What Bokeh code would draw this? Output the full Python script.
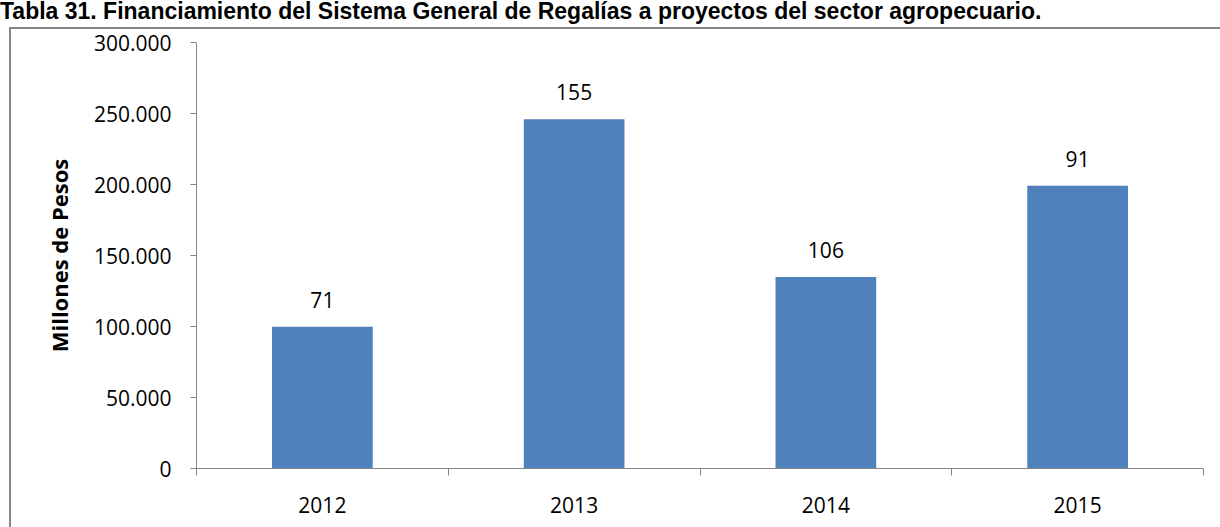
from bokeh.plotting import figure
from bokeh.layouts import column
from bokeh.models import ColumnDataSource, FixedTicker, Div
from bokeh.core.properties import value
from bokeh.embed import file_html
from bokeh.resources import INLINE

# ---- data ----
years = ["2012", "2013", "2014", "2015"]
values = [99800, 246000, 134800, 199150]          # millones de pesos
projects = ["71", "155", "106", "91"]               # labels above bars
y_ticks = [0, 50000, 100000, 150000, 200000, 250000, 300000]

title_text = "Tabla 31. Financiamiento del Sistema General de Regalías a proyectos del sector agropecuario."

BAR = "#4F81BD"
GREY = "#868686"
FONT = "Open Sans"

xs = [i + 0.5 for i in range(len(years))]
src = ColumnDataSource(dict(x=xs, top=values, lab=projects))

W, H = 1220, 527
TH = 26                      # title strip height
ML, MR, MT, MB = 196, 17, 42 - TH, 59

title = Div(text=title_text, width=W, height=TH, margin=0,
            styles={"font-family": "Liberation Sans", "font-weight": "bold", "font-size": "23px",
                    "color": "black", "white-space": "nowrap", "line-height": "23px",
                    "padding-left": "0px", "background": "#ffffff"})

p = figure(width=W, height=H - TH, output_backend="svg", toolbar_location=None,
           x_range=(0, len(years)), y_range=(0, 300000), margin=0,
           min_border_left=ML, min_border_right=MR, min_border_top=MT, min_border_bottom=MB)
p.outline_line_color = None
p.xgrid.visible = False
p.ygrid.visible = False
p.background_fill_color = None
p.border_fill_color = None
# outer chart frame (left and top edges, the rest runs off the picture)
p.styles = {
    "background": (
        f"linear-gradient({GREY},{GREY}) 9px 1px / 2px 1000px no-repeat, "
        f"linear-gradient({GREY},{GREY}) 9px 1px / 2000px 2px no-repeat, #ffffff"
    )
}

p.vbar(x="x", top="top", width=0.4, bottom=0, source=src, color=BAR, line_color=None)
p.text(x="x", y="top", text="lab", source=src, text_align="center", text_baseline="middle",
       y_offset=-27, text_font=value(FONT), text_font_size="21px", text_color="black")

# y axis
ya = p.yaxis[0]
ya.ticker = FixedTicker(ticks=y_ticks, minor_ticks=[])
ya.major_label_overrides = {t: f"{t:,}".replace(",", ".") for t in y_ticks}
ya.axis_line_color = GREY
ya.major_tick_line_color = GREY
ya.major_tick_out = 6
ya.major_tick_in = 0
ya.minor_tick_line_color = None
ya.major_label_text_font = FONT
ya.major_label_text_font_size = "21px"
ya.major_label_text_color = "black"
ya.major_label_standoff = 19
ya.axis_label = "Millones de Pesos"
ya.axis_label_text_font = FONT
ya.axis_label_text_font_style = "bold"
ya.axis_label_text_font_size = "22px"
ya.axis_label_text_color = "black"
ya.axis_label_standoff = 17

# x axis: labels at centers, tick marks at category boundaries
xa = p.xaxis[0]
xa.ticker = FixedTicker(ticks=xs, minor_ticks=list(range(len(years) + 1)))
xa.major_label_overrides = {x: y for x, y in zip(xs, years)}
xa.axis_line_color = GREY
xa.major_tick_line_color = None
xa.major_tick_out = 0
xa.major_tick_in = 0
xa.minor_tick_line_color = GREY
xa.minor_tick_out = 7
xa.minor_tick_in = 0
xa.major_label_text_font = FONT
xa.major_label_text_font_size = "21px"
xa.major_label_text_color = "black"
xa.major_label_standoff = 21

layout = column(title, p, spacing=0, margin=0)
open("out.html", "w").write(file_html(layout, INLINE))
